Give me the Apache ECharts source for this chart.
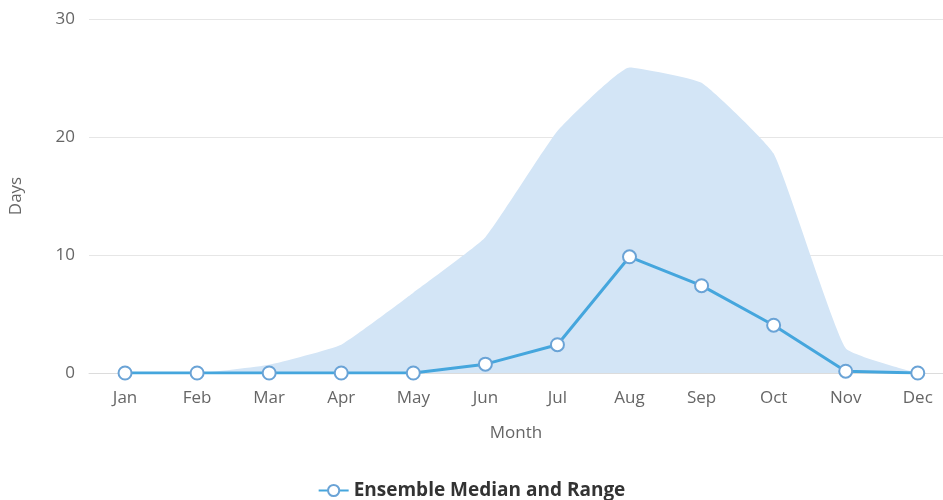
<!DOCTYPE html>
<html>
<head>
<meta charset="utf-8">
<script src="https://cdn.jsdelivr.net/npm/echarts@6/dist/echarts.min.js"></script>
<style>
    html, body {margin: 0; padding: 0; background: #fff;}
    #main {width: 943px; height: 500px;}
</style>
</head>
<body>
<div id="main"></div>
<script>
var months = ['Jan', 'Feb', 'Mar', 'Apr', 'May', 'Jun', 'Jul', 'Aug', 'Sep', 'Oct', 'Nov', 'Dec'];
var rangeLow = [0, 0, 0, 0, 0, 0, 0, 0, 0, 0, 0, 0];
var rangeHigh = [0, 0, 0.7, 2.4, 6.8, 11.5, 20.5, 25.9, 24.6, 18.6, 2.1, 0];
var median = [0, 0, 0, 0, 0, 0.75, 2.4, 9.85, 7.4, 4.05, 0.15, 0];
var yTicks = [0, 10, 20, 30];

var chart = echarts.init(document.getElementById('main'));
var font = '"Open Sans", "Noto Sans", sans-serif';

// month index -> value pairs, so the plot can run off the right edge like the original
var idx = months.map(function (m, i) {
    return i;
});
var pairs = function (arr) {
    return arr.map(function (v, i) {
        return [i, v];
    });
};

var option = {
    animation: false,
    textStyle: {fontFamily: font},
    grid: {left: 89, right: 0, top: 19, height: 354},
    legend: {
        top: 476,
        left: 'center',
        data: ['Ensemble Median and Range'],
        itemWidth: 30,
        itemHeight: 14,
        itemGap: 6,
        textStyle: {fontFamily: font, fontSize: 19, fontWeight: 'bold', color: '#333'}
    },
    xAxis: {
        type: 'value',
        min: -0.5,
        max: 11.35,
        name: 'Month',
        nameLocation: 'middle',
        nameGap: 52,
        nameTextStyle: {fontSize: 17, color: '#666'},
        axisLine: {lineStyle: {color: '#dcdcdc'}},
        axisTick: {show: false},
        splitLine: {show: false},
        axisLabel: {
            fontSize: 17, color: '#666', margin: 17,
            customValues: idx,
            formatter: function (v) {
                return months[Math.round(v)];
            }
        }
    },
    yAxis: {
        type: 'value',
        min: yTicks[0],
        max: yTicks[yTicks.length - 1],
        interval: 10,
        name: 'Days',
        nameLocation: 'middle',
        nameGap: 64,
        nameTextStyle: {fontSize: 17, color: '#666'},
        axisLine: {show: false},
        axisTick: {show: false},
        axisLabel: {fontSize: 17, color: '#666', margin: 14},
        splitLine: {lineStyle: {color: '#e6e6e6'}}
    },
    series: [{
        // upper edge of the range, filled down to the axis
        name: 'rangeHigh',
        type: 'line',
        data: pairs(rangeHigh),
        symbol: 'none',
        smooth: 0.12,
        silent: true,
        lineStyle: {opacity: 0},
        areaStyle: {color: '#d3e5f6', opacity: 1, origin: 'start'},
        z: 1
    }, {
        // lower edge of the range, cut out in white (sits on zero here)
        name: 'rangeLow',
        type: 'line',
        data: pairs(rangeLow),
        symbol: 'none',
        silent: true,
        lineStyle: {opacity: 0},
        areaStyle: {color: '#fff', opacity: 1, origin: 'start'},
        z: 2
    }, {
        name: 'Ensemble Median and Range',
        type: 'line',
        data: pairs(median),
        symbol: 'circle',
        symbolSize: 13,
        lineStyle: {color: '#45a6dd', width: 3},
        itemStyle: {color: '#fff', borderColor: '#6aa3d6', borderWidth: 2},
        z: 3
    }]
};
chart.setOption(option);
</script>
</body>
</html>
